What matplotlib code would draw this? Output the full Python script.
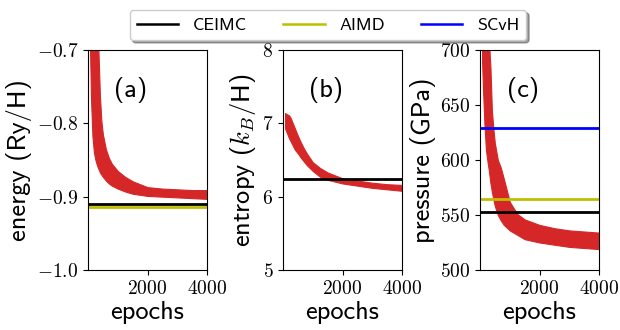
import matplotlib
matplotlib.use('Agg')
import matplotlib.pyplot as plt
from matplotlib.ticker import FuncFormatter

plt.rcParams['font.family'] = 'cmss10'
plt.rcParams['mathtext.fontset'] = 'cm'
plt.rcParams['axes.unicode_minus'] = False

# training epochs at which the band edges were read
epochs = [70, 100, 150, 200, 250, 300, 350, 400, 450, 500, 600, 700, 800,
          1000, 1250, 1500, 2000, 2500, 3000, 3500, 4000]

# energy (Ry/H), spread of the runs
energy_lo = [-0.70, -0.765, -0.818, -0.840, -0.850, -0.857, -0.862, -0.867,
             -0.870, -0.873, -0.878, -0.882, -0.885, -0.889, -0.893, -0.896,
             -0.899, -0.900, -0.901, -0.902, -0.903]
energy_hi = [-0.55, -0.58, -0.60, -0.61, -0.62, -0.66, -0.70, -0.762,
             -0.797, -0.815, -0.835, -0.847, -0.855, -0.865, -0.873, -0.879,
             -0.887, -0.889, -0.890, -0.891, -0.891]

# entropy (k_B/H)
entropy_lo = [6.93, 6.90, 6.85, 6.80, 6.76, 6.72, 6.68, 6.64, 6.615, 6.59,
              6.53, 6.48, 6.43, 6.35, 6.27, 6.23, 6.18, 6.15, 6.12, 6.10, 6.08]
entropy_hi = [7.14, 7.13, 7.12, 7.11, 7.08, 7.03, 6.98, 6.93, 6.88, 6.83,
              6.74, 6.66, 6.59, 6.47, 6.39, 6.33, 6.25, 6.22, 6.19, 6.17, 6.16]

# pressure (GPa)
pressure_lo = [690, 665, 632, 609, 599, 590, 579, 571, 564, 558, 550, 545,
               541, 536, 532, 528, 525, 523, 521, 520, 519]
pressure_hi = [780, 770, 750, 735, 720, 708, 685, 645, 628, 615, 600, 593,
               583, 562, 551, 546, 541, 538, 536, 535, 534]

# reference values
ref_names = ['CEIMC', 'AIMD', 'SCvH']
ref_colors = ['k', '#bfbf00', 'b']
energy_ref = {'CEIMC': -0.910, 'AIMD': -0.9145}
entropy_ref = {'CEIMC': 6.245}
pressure_ref = {'CEIMC': 553, 'AIMD': 564.5, 'SCvH': 629.5}

panels = [
    ('(a)', 'energy (Ry/H)', energy_lo, energy_hi, energy_ref,
     (-1.0, -0.7), [-1.0, -0.9, -0.8, -0.7], '%.1f'),
    ('(b)', r'entropy ($k_B$/H)', entropy_lo, entropy_hi, entropy_ref,
     (5, 8), [5, 6, 7, 8], '%d'),
    ('(c)', 'pressure (GPa)', pressure_lo, pressure_hi, pressure_ref,
     (500, 700), [500, 550, 600, 650, 700], '%d'),
]

figw, figh = 620.0, 330.0
fig = plt.figure(figsize=(figw/100, figh/100), dpi=100)
lefts = [88.0, 283.0, 480.0]

for left, (tag, ylab, lo, hi, refs, ylim, yticks, fmt) in zip(lefts, panels):
    ax = fig.add_axes([left/figw, 60/figh, 119/figw, 220/figh])
    ax.fill_between(epochs, lo, hi, color='#d62728', lw=0.8,
                    edgecolor='#d62728', zorder=1)
    # AIMD drawn before CEIMC so the black line sits on top
    for name, c in list(zip(ref_names, ref_colors))[::-1]:
        if name in refs:
            ax.axhline(refs[name], color=c, lw=2.0, zorder=2)
    ax.set_xlim(0, 4000)
    ax.set_ylim(*ylim)
    ax.set_xticks([2000, 4000])
    ax.set_yticks(yticks)
    ax.xaxis.set_major_formatter(FuncFormatter(lambda v, p: r'$%d$' % v))
    ax.yaxis.set_major_formatter(
        FuncFormatter(lambda v, p, f=fmt: r'$%s$' % (f % v)))
    ax.tick_params(labelsize=14)
    ax.set_xlabel('epochs', fontsize=19, labelpad=2)
    ax.set_ylabel(ylab, fontsize=19, labelpad=3)
    ax.text(0.36, 0.82, tag, transform=ax.transAxes, fontsize=19,
            ha='center', va='center')

# legend with all three references
handles = [plt.Line2D([], [], color=c, lw=1.8) for c in ref_colors]
fig.legend(handles, ref_names, loc='upper center', ncol=3,
           bbox_to_anchor=(328/figw, 1 - 1/figh), fontsize=13,
           shadow=True, fancybox=True, handlelength=2.3)

fig.savefig('out.png', dpi=100)
